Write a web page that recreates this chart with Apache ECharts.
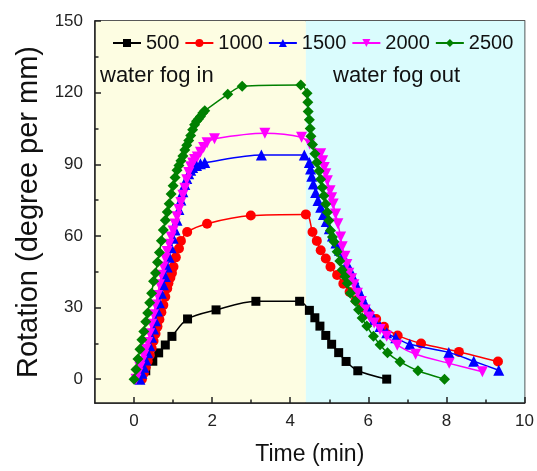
<!DOCTYPE html>
<html>
<head>
<meta charset="utf-8">
<script src="https://cdn.jsdelivr.net/npm/echarts@6/dist/echarts.min.js"></script>
<style>
  html, body { margin: 0; padding: 0; background: #fff; }
  #chart { width: 537px; height: 471px; }
</style>
</head>
<body>
<div id="chart"></div>
<script>
// values: [time (min), rotation (degree per mm)]
const s500 = [[0.15,0],[0.3,3.5],[0.48,7.5],[0.63,11],[0.8,14.3],[0.97,17.9],[1.37,25.2],[2.1,29],[3.12,32.6],[4.24,32.6],
  [4.49,28.8],[4.63,25.7],[4.76,22.2],[4.91,18.3],[5.06,14.6],[5.24,11.1],[5.43,7.4],[5.73,3.5],[6.47,0]];

const s1000 = [[0.2,0],[0.25,2.5],[0.3,5],[0.35,7.5],[0.4,10],[0.45,13],[0.5,16],[0.55,19],[0.6,22],[0.65,25],[0.7,28],
  [0.75,31],[0.8,34.5],[0.85,38],[0.88,40.2],[0.93,42.5],[0.97,44.5],[1.01,47.1],[1.07,51],[1.15,54.7],[1.2,57.9],
  [1.36,61.6],[1.87,65.1],[2.99,68.5],[4.4,69],
  [4.57,61.6],[4.68,57.9],[4.78,54],[4.91,50.5],[5.03,47.1],[5.2,43.6],[5.36,40],[5.52,36.5],[5.68,33],[5.85,30],
  [6.02,27.5],[6.2,25.2],[6.4,21.9],[6.75,18.3],[7.35,14.9],[8.32,11.4],[9.32,7.4]];

const s1500 = [[0.15,0],[0.2,2.5],[0.25,5],[0.3,8],[0.35,11],[0.4,14],[0.45,17.5],[0.5,21],[0.55,24.5],[0.6,28.5],
  [0.65,32],[0.7,36],[0.75,39.5],[0.8,43],[0.85,47],[0.9,51],[0.95,55],[1.0,59],[1.05,62.5],[1.1,66.5],[1.15,71],
  [1.2,75],[1.25,78.5],[1.3,81.5],[1.35,84],[1.4,86],[1.45,87.5],[1.5,88.6],[1.6,89.5],[1.7,90.2],[1.81,90.7],
  [3.26,93.9],[4.36,93.9],
  [4.49,90.7],[4.52,88],[4.55,85],[4.59,81.7],[4.65,78.2],[4.71,74.8],[4.78,72],[4.85,69],[4.92,66],[5.0,63],
  [5.08,60],[5.17,57],[5.26,54],[5.35,51.5],[5.45,48.5],[5.54,45.5],[5.63,42],[5.72,38.5],[5.82,35],[5.92,31.5],
  [6.02,28.5],[6.15,25],[6.3,22],[6.47,19.4],[6.7,17.3],[7.06,14.6],[8.06,11.2],[8.7,7.5],[9.34,3.7]];

const s2000 = [[0.05,0],[0.1,2.5],[0.15,5],[0.2,7.5],[0.25,10],[0.3,12.5],[0.35,15.3],[0.4,19],[0.45,23],[0.5,27],
  [0.55,31],[0.6,35],[0.65,39.5],[0.7,43.5],[0.75,47],[0.8,50.5],[0.85,53.5],[0.9,56.5],[0.95,59.5],[1.0,62],
  [1.05,65],[1.1,68],[1.15,71],[1.2,74],[1.25,77],[1.3,80],[1.35,83.5],[1.4,86.5],[1.45,89],[1.5,90.5],[1.55,92],
  [1.62,93],[1.7,95],[1.78,97],[1.87,99],[2.06,100.7],[3.35,103],[4.29,101.3],
  [4.5,98.5],[4.78,94.4],[4.83,91.5],[4.87,88.6],[4.91,86],[4.95,83.1],[5.02,78.9],[5.06,76],[5.1,73.4],[5.16,69.2],
  [5.22,65.1],[5.29,59.5],[5.33,55.4],[5.4,51.5],[5.45,48],[5.5,44.3],[5.57,42],[5.63,39.5],[5.72,36],[5.82,32.5],
  [5.92,29],[6.03,26],[6.15,23.5],[6.3,20.8],[6.47,18],[6.74,14.2],[7.21,10.4],[8.07,6.6],[8.92,3.1]];

const s2500 = [[0,0],[0.05,4],[0.1,8.4],[0.15,12.5],[0.2,16.5],[0.25,20],[0.3,24],[0.35,27.7],[0.4,32],[0.45,36],
  [0.5,41],[0.55,44.5],[0.6,49],[0.65,53],[0.7,58],[0.75,62.5],[0.8,66.5],[0.85,70],[0.9,73.5],[0.95,77.5],[1.0,81],
  [1.05,84.5],[1.1,87.5],[1.15,89.5],[1.2,91.5],[1.25,93.5],[1.3,96],[1.35,98],[1.4,100],[1.45,102],[1.5,104.5],
  [1.55,106.5],[1.6,108],[1.65,109],[1.7,110],[1.76,111.5],[1.81,112.4],[2.4,119.3],[2.77,122.7],[4.27,123.2],
  [4.43,119.7],[4.45,116],[4.46,112.1],[4.49,108.6],[4.51,105],[4.53,101.7],[4.57,98.3],[4.63,94.4],[4.68,90.7],
  [4.74,87.2],[4.78,83.7],[4.82,80.3],[4.86,76.8],[4.91,73.3],[4.95,69.9],[4.99,66.4],[5.03,62.3],[5.08,59.5],
  [5.12,57.5],[5.2,53.3],[5.27,49.5],[5.33,45.7],[5.4,43],[5.46,40.2],[5.54,36],[5.67,32.6],[5.75,29.1],[5.84,25.6],
  [5.96,22.2],[6.13,18],[6.3,14.4],[6.49,11],[6.81,7.3],[7.27,3.5],[7.95,0]];

const names = ['500', '1000', '1500', '2000', '2500'];
const fogSwitch = 4.4;          // time the water fog is switched off
const xTicks = [0, 2, 4, 6, 8, 10];
const xMinor = [1, 3, 5, 7, 9];
const yTicks = [0, 30, 60, 90, 120, 150];
const yMinor = [15, 45, 75, 105, 135];

const font = 'Liberation Sans, Arial, sans-serif';
const colors = ['#000000', '#ff0000', '#0000ff', '#ff00ff', '#008000'];
const symbols = ['rect', 'circle', 'triangle', 'triangle', 'diamond'];
const symbolSizes = [9, 10, 11, 11, 11];
const rotates = [0, 0, 0, 180, 0];
const allData = [s500, s1000, s1500, s2000, s2500];

const chart = echarts.init(document.getElementById('chart'));

const series = [{
  type: 'line',
  data: [],
  silent: true,
  z: 1,
  markArea: {
    silent: true,
    data: [
      [{ xAxis: -1, itemStyle: { color: '#fdfde2' } }, { xAxis: fogSwitch }],
      [{ xAxis: fogSwitch, itemStyle: { color: '#dafcfd' } }, { xAxis: 10 }]
    ]
  }
}];
names.forEach((n, i) => {
  series.push({
    name: n,
    type: 'line',
    data: allData[i],
    smooth: 0.3,
    symbol: symbols[i],
    symbolSize: symbolSizes[i],
    symbolRotate: rotates[i],
    showAllSymbol: true,
    color: colors[i],
    lineStyle: { width: 1.5, color: colors[i] },
    itemStyle: { color: colors[i] },
    z: 3 + i
  });
});

const axisLine = { show: true, onZero: false, lineStyle: { color: '#222', width: 1.5 } };
const noLine = { show: false, onZero: false };
const tickStyle = { color: '#222', width: 1.5 };

const option = {
  animation: false,
  textStyle: { fontFamily: font },
  grid: { left: 95, right: 7, top: 21, bottom: 63, show: true, borderColor: '#222', borderWidth: 1.5 },
  legend: {
    data: names,
    left: 112, top: 33, width: 426, padding: 0,
    itemWidth: 28, itemHeight: 10, itemGap: 5,
    textStyle: { fontSize: 20, color: '#111', fontFamily: font }
  },
  xAxis: [{
    type: 'value', min: -1, max: 10, z: 20,
    axisLine: axisLine,
    axisTick: { inside: true, length: 6, customValues: xTicks, lineStyle: tickStyle },
    axisLabel: { customValues: xTicks, fontSize: 17, color: '#222', margin: 10, fontFamily: font },
    splitLine: { show: false },
    name: 'Time (min)', nameLocation: 'middle', nameGap: 40,
    nameTextStyle: { fontSize: 23, color: '#111', fontFamily: font }
  }, {
    type: 'value', min: -1, max: 10, position: 'bottom', z: 20,
    axisLine: noLine,
    axisTick: { inside: true, length: 3.5, customValues: xMinor, lineStyle: tickStyle },
    axisLabel: { show: false },
    splitLine: { show: false }
  }],
  yAxis: [{
    type: 'value', min: -10, max: 150, z: 20,
    axisLine: axisLine,
    axisTick: { inside: true, length: 6, customValues: yTicks, lineStyle: tickStyle },
    axisLabel: { customValues: yTicks, fontSize: 17, color: '#222', margin: 12, fontFamily: font },
    splitLine: { show: false },
    name: 'Rotation (degree per mm)', nameLocation: 'middle', nameGap: 52,
    nameTextStyle: { fontSize: 29, color: '#111', fontFamily: font }
  }, {
    type: 'value', min: -10, max: 150, position: 'left', z: 20,
    axisLine: noLine,
    axisTick: { inside: true, length: 3.5, customValues: yMinor, lineStyle: tickStyle },
    axisLabel: { show: false },
    splitLine: { show: false }
  }],
  graphic: [
    { type: 'text', z: 100, left: 100, top: 65, style: { text: 'water fog in', fontSize: 22, fill: '#111', fontFamily: font } },
    { type: 'text', z: 100, left: 333, top: 65, style: { text: 'water fog out', fontSize: 22, fill: '#111', fontFamily: font } }
  ],
  series: series
};

chart.setOption(option);
</script>
</body>
</html>
